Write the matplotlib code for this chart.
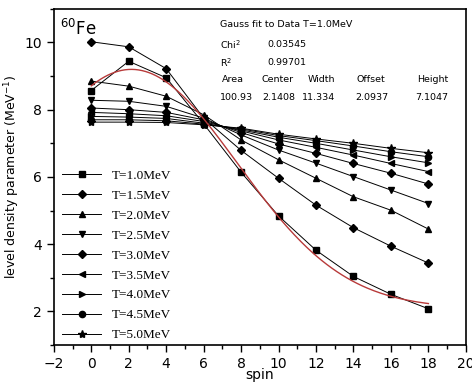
import numpy as np
import matplotlib
matplotlib.use("Agg")
import matplotlib.pyplot as plt
from matplotlib.ticker import MultipleLocator

# datos
spin = [0, 2, 4, 6, 8, 10, 12, 14, 16, 18]
etiquetas = ['T=1.0MeV', 'T=1.5MeV', 'T=2.0MeV', 'T=2.5MeV', 'T=3.0MeV',
             'T=3.5MeV', 'T=4.0MeV', 'T=4.5MeV', 'T=5.0MeV']
t10 = [8.57, 9.44, 8.95, 7.58, 6.14, 4.84, 3.82, 3.04, 2.51, 2.08]
t15 = [10.02, 9.87, 9.22, 7.75, 6.79, 5.96, 5.16, 4.49, 3.94, 3.44]
t20 = [8.85, 8.70, 8.40, 7.85, 7.10, 6.51, 5.96, 5.41, 5.01, 4.45]
t25 = [8.28, 8.25, 8.10, 7.75, 7.25, 6.80, 6.41, 6.01, 5.61, 5.21]
t30 = [8.05, 8.00, 7.92, 7.70, 7.32, 6.98, 6.70, 6.40, 6.11, 5.79]
t35 = [7.92, 7.88, 7.82, 7.65, 7.37, 7.10, 6.88, 6.65, 6.40, 6.16]
t40 = [7.80, 7.78, 7.74, 7.60, 7.40, 7.18, 7.00, 6.80, 6.60, 6.42]
t45 = [7.70, 7.70, 7.67, 7.57, 7.43, 7.23, 7.08, 6.92, 6.75, 6.60]
t50 = [7.63, 7.63, 7.62, 7.55, 7.45, 7.27, 7.13, 7.00, 6.85, 6.72]
series = [t10, t15, t20, t25, t30, t35, t40, t45, t50]
marcadores = ['s', 'D', '^', 'v', 'D', '<', '>', 'o', '*']

# parametros del ajuste gaussiano (Origin)
area = 100.93
centro = 2.1408
ancho = 11.334
offset = 2.0937
altura = 7.1047

fig = plt.figure(figsize=(4.72, 3.83), dpi=100)
ax = fig.add_axes([0.114, 0.099, 0.873, 0.878])

for i, datos in enumerate(series):
    tam = 4.5
    if marcadores[i] == '*':
        tam = 6
    elif marcadores[i] == 'D':
        tam = 4
    ax.plot(spin, datos, color='black', lw=0.7, marker=marcadores[i],
            ms=tam, label=etiquetas[i])

xf = np.linspace(0, 18, 200)
yf = offset + area / (ancho * np.sqrt(np.pi / 2)) * np.exp(-2 * ((xf - centro) / ancho) ** 2)
ax.plot(xf, yf, color='#b83a3a', lw=1.0)

ax.set_xlim(-2, 20)
ax.set_ylim(1, 11)
ax.xaxis.set_major_locator(MultipleLocator(2))
ax.xaxis.set_minor_locator(MultipleLocator(1))
ax.yaxis.set_major_locator(MultipleLocator(2))
ax.yaxis.set_minor_locator(MultipleLocator(1))
ax.tick_params(which='major', length=5, width=1, labelsize=10)
ax.tick_params(which='minor', length=3, width=1)
for s in ax.spines.values():
    s.set_linewidth(1.2)

ax.set_xlabel('spin', fontsize=10, labelpad=-2)
ax.set_ylabel('level density parameter (MeV$^{-1}$)', fontsize=9, labelpad=2)

leg = ax.legend(loc='lower left', bbox_to_anchor=(0.0, -0.012), frameon=False,
                prop={'family': 'Liberation Serif', 'size': 9.5},
                handlelength=3.0, labelspacing=0.58, borderaxespad=0.2)

ax.text(0.015, 0.94, '$^{60}$Fe', transform=ax.transAxes, fontsize=12, va='center')

fs = 6.8
def caja(x, y, s):
    ax.text(x, y, s, transform=ax.transAxes, fontsize=fs, va='center')

caja(0.403, 0.952, 'Gauss fit to Data T=1.0MeV')
caja(0.403, 0.893, 'Chi$^2$')
caja(0.519, 0.893, '%.5f' % 0.03545)
caja(0.403, 0.839, 'R$^2$')
caja(0.519, 0.839, '%.5f' % 0.99701)
columnas = ['Area', 'Center', 'Width', 'Offset', 'Height']
valores = [area, centro, ancho, offset, altura]
xcab = [0.408, 0.505, 0.617, 0.735, 0.881]
xval = [0.403, 0.505, 0.602, 0.731, 0.876]
formatos = ['%.2f', '%.4f', '%.3f', '%.4f', '%.4f']
for j in range(5):
    caja(xcab[j], 0.789, columnas[j])
    caja(xval[j], 0.735, formatos[j] % valores[j])

fig.savefig('out.png', dpi=100)
